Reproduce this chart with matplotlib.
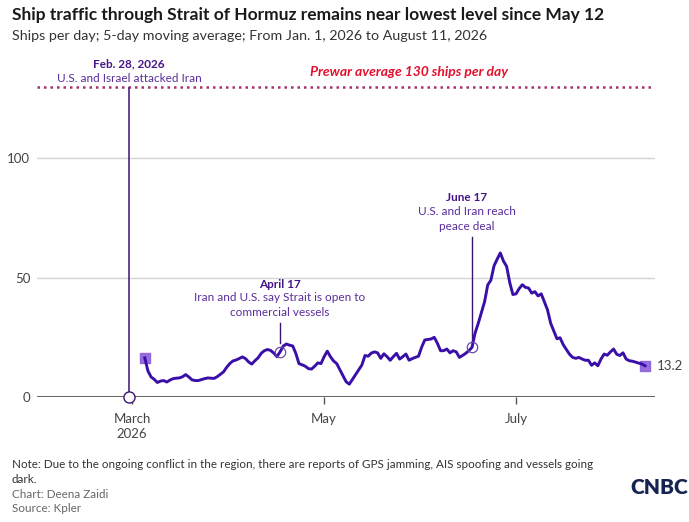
import numpy as np
import pandas as pd
import matplotlib
matplotlib.use("Agg")
import matplotlib.pyplot as plt
import matplotlib.dates as mdates

plt.rcParams['font.family'] = ['Lato', 'DejaVu Sans']

# ---------------- data ----------------
start_date = "2026-03-05"
end_date = "2026-08-11"
ships = [
    16.5, 11.0, 8.5, 7.5, 6.2, 6.8, 7.0, 6.4, 7.2, 7.8,
    8.0, 8.1, 8.6, 9.5, 8.5, 7.3, 7.0, 7.0, 7.4, 7.8,
    8.1, 8.0, 7.9, 8.6, 9.6, 10.6, 12.5, 14.1, 15.2, 15.6,
    16.2, 16.9, 16.2, 14.8, 13.9, 15.3, 16.5, 18.4, 19.5, 20.0,
    19.6, 18.5, 17.0, 19.0, 21.4, 22.3, 21.8, 21.5, 18.4, 14.1,
    13.6, 13.0, 12.0, 11.8, 13.0, 14.4, 14.1, 17.0, 19.3, 17.0,
    15.2, 14.1, 11.5, 9.0, 6.5, 5.5, 7.5, 9.5, 11.5, 13.5,
    17.5, 17.2, 18.5, 19.0, 18.6, 16.3, 18.2, 17.0, 15.5, 17.0,
    18.4, 16.0, 17.0, 18.1, 15.5, 16.2, 16.7, 17.2, 21.0, 24.0,
    24.2, 24.4, 25.1, 22.6, 19.5, 19.5, 20.2, 18.6, 19.5, 19.0,
    16.7, 17.5, 18.4, 19.5, 20.9, 27.0, 31.0, 35.5, 40.0, 47.0,
    49.0, 55.0, 57.8, 60.4, 57.0, 54.8, 48.0, 43.0, 43.3, 45.5,
    47.1, 46.0, 45.7, 43.6, 44.2, 42.4, 43.3, 40.0, 36.6, 31.0,
    27.8, 24.5, 24.9, 22.0, 20.0, 18.0, 16.7, 16.3, 16.7, 16.0,
    15.5, 15.5, 13.4, 14.4, 13.2, 16.0, 18.1, 17.6, 19.0, 20.2,
    18.0, 17.5, 18.6, 16.0, 15.3, 15.1, 14.7, 14.3, 13.9, 13.2,
]
dates = pd.date_range(start_date, end_date, freq="D")
prewar_avg = 130
end_label = "13.2"

tick_dates = ["2026-03-01", "2026-05-01", "2026-07-01"]
tick_labels = ["March\n2026", "May", "July"]
y_ticks = [0, 50, 100]

event_dates = ["2026-02-28", "2026-04-17", "2026-06-17"]
event_titles = ["Feb. 28, 2026", "April 17", "June 17"]
event_texts = ["U.S. and Israel attacked Iran",
               "Iran and U.S. say Strait is open to\ncommercial vessels",
               "U.S. and Iran reach\npeace deal"]

title = "Ship traffic through Strait of Hormuz remains near lowest level since May 12"
subtitle = "Ships per day; 5-day moving average; From Jan. 1, 2026 to August 11, 2026"
note = ("Note: Due to the ongoing conflict in the region, there are reports of GPS jamming, AIS spoofing and vessels going\n"
        "dark.")
credit = "Chart: Deena Zaidi"
source = "Source: Kpler"

# ---------------- figure ----------------
W, H = 689, 522
fig = plt.figure(figsize=(W / 100, H / 100), dpi=100)

def fx(px):
    return px / W

def fy(py):
    return 1 - py / H

ax_l, ax_r, ax_b, ax_t = 37.3, 655, 397.3, 62.7
ax = fig.add_axes([fx(ax_l), fy(ax_b), fx(ax_r - ax_l), fy(ax_t) - fy(ax_b)])

line_color = "#3a0fa8"
marker_color = "#8b5fd9"
anno_color = "#5a2d9c"
anno_bold = "#45168a"
lead_color = "#3b1474"

xmin = pd.Timestamp("2026-01-29 20:00")
xmax = pd.Timestamp("2026-08-14 04:00")
ax.set_xlim(xmin, xmax)
ax.set_ylim(0, 140)

for s in ax.spines.values():
    s.set_visible(False)

# grid lines
for yv in y_ticks[1:]:
    ax.axhline(yv, color="#d4d4d4", lw=1.0, zorder=1)
ax.axhline(0, color="#555555", lw=1.3, zorder=2)

# prewar dotted line
ax.axhline(prewar_avg, color="#a8306e", lw=1.8, linestyle=(0, (1, 1.6)), zorder=2)
ax.text(pd.Timestamp("2026-05-28"), 136.1, "Prewar average 130 ships per day",
        color="#e3112d", fontsize=10, fontweight="bold", fontstyle="italic",
        ha="center", va="center", clip_on=False)

# main line
ax.plot(dates, ships, color=line_color, lw=2.1, zorder=5, solid_joinstyle="round")
ax.plot([dates[0], dates[-1]], [ships[0], ships[-1]], linestyle="none", marker="s",
        markersize=7.5, color=marker_color, alpha=0.9, zorder=4)
ax.annotate(end_label, xy=(dates[-1], ships[-1]), xytext=(12, 0), textcoords="offset pixels",
            fontsize=9.5, color="#444444", va="center", ha="left", annotation_clip=False)

# ticks
ax.set_xticks([pd.Timestamp(d) for d in tick_dates])
ax.set_xticklabels(tick_labels, fontsize=9.5, color="#444444", linespacing=1.35)
ax.set_yticks(y_ticks)
ax.set_yticklabels([str(v) for v in y_ticks], fontsize=9.5, color="#444444")
ax.tick_params(axis="x", length=5, width=1.0, color="#555555", pad=6)
ax.tick_params(axis="y", length=0, pad=5)

# ---------------- events ----------------
# Feb 28
d0 = pd.Timestamp(event_dates[0])
ax.plot([d0, d0], [0, 129.5], color=lead_color, lw=1.1, zorder=3, clip_on=False)
ax.plot([d0], [0], marker="o", markersize=8, markerfacecolor="white",
        markeredgecolor=lead_color, markeredgewidth=1.0, zorder=6, clip_on=False)
ax.text(d0, 139.6, event_titles[0], fontsize=8.5, fontweight="bold", color=anno_bold,
        ha="center", va="center", clip_on=False)
ax.text(d0, 133.3, event_texts[0], fontsize=8.5, color=anno_color,
        ha="center", va="center", clip_on=False)

# April 17
d1 = pd.Timestamp(event_dates[1])
v1 = ships[list(dates).index(d1)]
ax.plot([d1, d1], [22.8, 31.2], color=lead_color, lw=1.0, zorder=3)
ax.plot([d1], [v1], marker="o", markersize=7.5, markerfacecolor="none",
        markeredgecolor="#6b4aa8", markeredgewidth=0.9, zorder=6)
ax.text(d1, 47.4, event_titles[1], fontsize=8.5, fontweight="bold", color=anno_bold,
        ha="center", va="center")
ax.text(d1, 38.6, event_texts[1], fontsize=8.5, color=anno_color,
        ha="center", va="center", linespacing=1.45)

# June 17
d2 = pd.Timestamp(event_dates[2])
v2 = ships[list(dates).index(d2)]
ax.plot([d2, d2], [22.8, 67.1], color=lead_color, lw=1.0, zorder=3)
ax.plot([d2], [v2], marker="o", markersize=7.5, markerfacecolor="none",
        markeredgecolor="#6b4aa8", markeredgewidth=0.9, zorder=6)
ax.annotate(event_titles[2], xy=(d2, 83.4), xytext=(-5, 0), textcoords="offset pixels",
            fontsize=8.5, fontweight="bold", color=anno_bold, ha="center", va="center")
ax.annotate(event_texts[2], xy=(d2, 74.6), xytext=(-5, 0), textcoords="offset pixels",
            fontsize=8.5, color=anno_color, ha="center", va="center", linespacing=1.45)

# ---------------- titles & footer ----------------
fig.text(fx(12), fy(15), title, fontsize=12.5, fontweight="bold", color="#1a1a1a",
         ha="left", va="center")
fig.text(fx(12), fy(36), subtitle, fontsize=10.3, color="#333333", ha="left", va="center")

fig.text(fx(12), fy(472), note, fontsize=8.4, color="#333333", ha="left", va="center",
         linespacing=1.4)
fig.text(fx(12), fy(494), credit, fontsize=8.4, color="#666666", ha="left", va="center")
fig.text(fx(12), fy(508), source, fontsize=8.4, color="#666666", ha="left", va="center")

fig.text(fx(659), fy(487), "CNBC", fontsize=15, fontweight="heavy", color="#14234f",
         ha="center", va="center")

fig.savefig("out.png", dpi=100)
